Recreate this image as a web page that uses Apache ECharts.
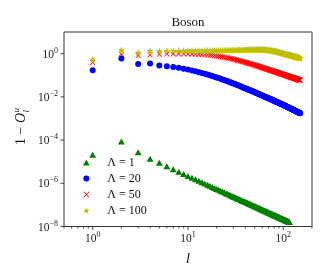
<!DOCTYPE html>
<html><head><meta charset="utf-8">
<script src="https://cdn.jsdelivr.net/npm/echarts@6/dist/echarts.min.js"></script>
<style>html,body{margin:0;padding:0;background:#fff}#c{width:332px;height:277px}</style>
</head><body><div id="c"></div>
<script>
// l values (angular momentum index)
const lValues = [1,2,3,4,5,6,7,8,9,10,11,12,13,14,15,16,17,18,19,20,21,22,23,24,25,26,27,28,29,30,
31,32,33,34,35,36,37,38,39,40,41,42,43,44,45,46,47,48,49,50,51,52,53,54,55,56,57,58,59,60,
61,62,63,64,65,66,67,68,69,70,71,72,73,74,75,76,77,78,79,80,81,82,83,84,85,86,87,88,89,90,
91,92,93,94,95,96,97,98,99,100,101,102,103,104,105,106,107,108,109,110,111,112,113,114,115,116,117,118,119,120,
121,122,123,124,125,126,127,128,129,130,131,132,133,134,135,136,137,138,139,140,141,142,143,144,145,146,147,148,149,150];

// Lambda = 1 (l = 1..116)
const lambda1 = [2.1e-5,8.5e-5,2.75e-5,1.38e-5,8.8e-6,6.1e-6,4.5e-6,3.4e-6,2.7e-6,2.2e-6,
1.82e-6,1.53e-6,1.30e-6,1.12e-6,9.8e-7,8.6e-7,7.6e-7,6.8e-7,6.1e-7,5.5e-7,
5.0e-7,4.5e-7,4.2e-7,3.8e-7,3.5e-7,3.3e-7,3.0e-7,2.8e-7,2.6e-7,2.4e-7,
2.3e-7,2.15e-7,2.0e-7,1.9e-7,1.8e-7,1.7e-7,1.6e-7,1.52e-7,1.45e-7,1.38e-7,
1.31e-7,1.25e-7,1.19e-7,1.14e-7,1.09e-7,1.04e-7,1.0e-7,9.5e-8,9.2e-8,8.8e-8,
8.5e-8,8.1e-8,7.8e-8,7.5e-8,7.3e-8,7.0e-8,6.8e-8,6.5e-8,6.3e-8,6.1e-8,
5.9e-8,5.7e-8,5.5e-8,5.4e-8,5.2e-8,5.1e-8,4.9e-8,4.8e-8,4.6e-8,4.5e-8,
4.4e-8,4.2e-8,4.1e-8,4.0e-8,3.9e-8,3.8e-8,3.7e-8,3.6e-8,3.5e-8,3.4e-8,
3.35e-8,3.27e-8,3.19e-8,3.12e-8,3.04e-8,2.97e-8,2.91e-8,2.84e-8,2.78e-8,2.72e-8,
2.66e-8,2.60e-8,2.54e-8,2.49e-8,2.44e-8,2.39e-8,2.34e-8,2.29e-8,2.24e-8,2.2e-8,
2.16e-8,2.11e-8,2.07e-8,2.03e-8,2.0e-8,1.96e-8,1.92e-8,1.89e-8,1.85e-8,1.82e-8,
1.79e-8,1.75e-8,1.72e-8,1.69e-8,1.66e-8,1.63e-8];

// Lambda = 20 (l = 1..150)
const lambda20 = [0.172,0.60,0.335,0.345,0.28,0.26,0.24,0.22,0.20,0.183,
0.167,0.152,0.138,0.127,0.117,0.108,0.0998,0.0923,0.0855,0.0794,
0.0738,0.0688,0.0642,0.060,0.0562,0.0527,0.0495,0.0466,0.0439,0.0414,
0.0391,0.037,0.035,0.0332,0.0316,0.030,0.0286,0.0272,0.0259,0.0248,
0.0237,0.0226,0.0217,0.0208,0.0199,0.0191,0.0184,0.0176,0.017,0.0163,
0.0157,0.0152,0.0146,0.0141,0.0136,0.0132,0.0127,0.0123,0.0119,0.0115,
0.0112,0.0108,0.0105,0.0102,0.0099,0.0096,0.0093,0.00906,0.00881,0.00856,
0.00833,0.00811,0.00789,0.00769,0.00749,0.0073,0.00711,0.00694,0.00677,0.0066,
0.00644,0.00629,0.00614,0.006,0.00586,0.00573,0.0056,0.00548,0.00536,0.00524,
0.00513,0.00502,0.00491,0.00481,0.00471,0.00462,0.00452,0.00443,0.00434,0.00426,
0.00417,0.00408,0.00399,0.00391,0.00383,0.00375,0.00367,0.0036,0.00352,0.00345,
0.00339,0.00332,0.00326,0.00319,0.00313,0.00307,0.00302,0.00296,0.00291,0.00285,
0.0028,0.00275,0.0027,0.00265,0.00261,0.00256,0.00252,0.00248,0.00243,0.00239,
0.00235,0.00231,0.00228,0.00224,0.0022,0.00217,0.00213,0.0021,0.00206,0.00203,
0.002,0.00197,0.00194,0.00191,0.00188,0.00185,0.00183,0.0018,0.00177,0.00175];

// Lambda = 50 (l = 1..150)
const lambda50 = [0.385,0.95,0.82,0.88,0.93,0.96,0.97,0.97,0.965,0.96,
0.948,0.934,0.918,0.901,0.882,0.862,0.841,0.819,0.796,0.773,
0.749,0.726,0.703,0.679,0.657,0.635,0.613,0.592,0.572,0.552,
0.534,0.515,0.498,0.481,0.465,0.45,0.435,0.421,0.408,0.395,
0.383,0.371,0.36,0.349,0.339,0.329,0.32,0.311,0.3025,0.294,
0.286,0.279,0.272,0.265,0.258,0.251,0.245,0.239,0.234,0.228,
0.223,0.218,0.213,0.208,0.203,0.199,0.195,0.191,0.187,0.183,
0.179,0.175,0.172,0.169,0.165,0.162,0.159,0.156,0.153,0.150,
0.148,0.145,0.143,0.140,0.138,0.135,0.133,0.131,0.129,0.127,
0.124,0.122,0.121,0.119,0.117,0.115,0.113,0.112,0.110,0.108,
0.107,0.105,0.104,0.102,0.101,0.0992,0.0978,0.0965,0.0952,0.0939,
0.0926,0.0914,0.0902,0.089,0.0878,0.0867,0.0856,0.0845,0.0834,0.0824,
0.0814,0.0804,0.0794,0.0784,0.0775,0.0766,0.0757,0.0748,0.0739,0.0731,
0.0722,0.0714,0.0706,0.0698,0.069,0.0683,0.0675,0.0668,0.0661,0.0654,
0.0647,0.064,0.0633,0.0627,0.062,0.0614,0.0608,0.0602,0.0595,0.0589];

// Lambda = 100 (l = 1..150)
const lambda100 = [0.55,1.48,1.12,1.33,1.30,1.35,1.37,1.38,1.39,1.40,
1.40,1.41,1.41,1.41,1.42,1.42,1.42,1.42,1.43,1.43,
1.43,1.43,1.44,1.44,1.44,1.45,1.45,1.46,1.46,1.47,
1.47,1.48,1.48,1.49,1.49,1.50,1.50,1.51,1.51,1.52,
1.52,1.53,1.53,1.54,1.54,1.55,1.55,1.55,1.56,1.56,
1.56,1.57,1.57,1.57,1.57,1.57,1.57,1.56,1.56,1.56,
1.55,1.55,1.54,1.53,1.52,1.51,1.50,1.49,1.48,1.47,
1.45,1.44,1.43,1.41,1.40,1.38,1.37,1.35,1.34,1.32,
1.31,1.29,1.28,1.26,1.25,1.23,1.22,1.20,1.19,1.17,
1.16,1.14,1.13,1.11,1.10,1.08,1.07,1.05,1.04,1.02,
1.01,1.00,0.99,0.98,0.97,0.96,0.95,0.94,0.93,0.92,
0.91,0.90,0.89,0.88,0.875,0.865,0.857,0.848,0.84,0.832,
0.824,0.816,0.808,0.80,0.792,0.785,0.777,0.77,0.763,0.756,
0.749,0.742,0.735,0.728,0.722,0.715,0.709,0.703,0.697,0.691,
0.685,0.679,0.673,0.668,0.662,0.657,0.651,0.646,0.641,0.636];

const seriesNames = ['Λ = 1','Λ = 20','Λ = 50','Λ = 100'];
const xMajorTicks = [1,10,100];
const xMinorTicks = [0.5,0.6,0.7,0.8,0.9,2,3,4,5,6,7,8,9,20,30,40,50,60,70,80,90,200];
const yMajorTicks = [1e-8,1e-6,1e-4,1e-2,1];

const FONT = '"Liberation Serif","DejaVu Serif",serif';
const G = {left:64, top:32, right:312, bottom:226.5};

const TRI = 'path://M5,0L10,9L0,9Z';
const XMARK = 'path://M0,1L1,0L5,4L9,0L10,1L6,5L10,9L9,10L5,6L1,10L0,9L4,5Z';
const STAR = 'path://M5,0L6.2,3.5L9.8,3.5L6.9,5.7L8,9.2L5,7.1L2,9.2L3.1,5.7L0.2,3.5L3.8,3.5Z';

function pairs(vals){ return vals.map((v,i)=>[lValues[i], v]); }

function expLabel(v, allowed){
  const lg = Math.log10(v);
  const e = Math.round(lg);
  if (Math.abs(lg - e) > 1e-6 || allowed.indexOf(e) < 0) return '';
  return '{b|10}{s|' + (e < 0 ? '\u2212' + (-e) : e) + '}';
}
const richTick = {
  b:{fontFamily:FONT, fontSize:11.5, color:'#222', lineHeight:14, verticalAlign:'bottom'},
  s:{fontFamily:FONT, fontSize:8, color:'#222', lineHeight:8, verticalAlign:'top'}
};

const chart = echarts.init(document.getElementById('c'));
const option = {
  animation:false,
  backgroundColor:'#fff',
  title:{text:'Boson', left:188, top:16, textAlign:'center', padding:0,
    textStyle:{fontFamily:FONT, fontSize:13, fontWeight:'normal', color:'#111'}},
  grid:{left:G.left, top:G.top, width:G.right-G.left, height:G.bottom-G.top, show:true,
    borderColor:'#333', borderWidth:1, backgroundColor:'transparent'},
  legend:{orient:'vertical', left:83, top:156.5, padding:0, itemWidth:32, itemHeight:6, itemGap:4,
    textStyle:{fontFamily:FONT, fontSize:12, color:'#111', lineHeight:12},
    data:[{name:seriesNames[0], icon:TRI},{name:seriesNames[1], icon:'circle'},
          {name:seriesNames[2], icon:XMARK},{name:seriesNames[3], icon:STAR}]},
  xAxis:{type:'log', logBase:10, min:0.5, max:200,
    name:'l', nameLocation:'middle', nameGap:26,
    nameTextStyle:{fontFamily:FONT, fontStyle:'italic', fontSize:14, color:'#111'},
    axisLine:{show:false}, axisTick:{show:false}, splitLine:{show:false},
    axisLabel:{margin:4, formatter:v=>expLabel(v,[0,1,2]), rich:richTick, showMinLabel:false, showMaxLabel:false}},
  yAxis:{type:'log', logBase:10, min:1e-8, max:10,
    axisLine:{show:false}, axisTick:{show:false}, splitLine:{show:false},
    axisLabel:{margin:6, formatter:v=>expLabel(v,[-8,-6,-4,-2,0]), rich:richTick}},
  series:[
    {name:seriesNames[0], type:'scatter', data:pairs(lambda1), symbol:TRI, symbolSize:[7,6],
      itemStyle:{color:'#008000', opacity:1}},
    {name:seriesNames[1], type:'scatter', data:pairs(lambda20), symbol:'circle', symbolSize:6,
      itemStyle:{color:'#0000ff', opacity:1}},
    {name:seriesNames[2], type:'scatter', data:pairs(lambda50), symbol:XMARK, symbolSize:5.5,
      itemStyle:{color:'#ff0000', opacity:1}},
    {name:seriesNames[3], type:'scatter', data:pairs(lambda100), symbol:STAR, symbolSize:7,
      itemStyle:{color:'#bfbf00', opacity:1}}
  ]
};
chart.setOption(option);

const els = [];
function tickLine(x1,y1,x2,y2){
  els.push({type:'line', silent:true, shape:{x1:x1,y1:y1,x2:x2,y2:y2}, style:{stroke:'#333', lineWidth:0.9}});
}
xMajorTicks.forEach(v=>{ const x = chart.convertToPixel({xAxisIndex:0}, v); tickLine(x,G.bottom,x,G.bottom+3.5); });
xMinorTicks.forEach(v=>{ const x = chart.convertToPixel({xAxisIndex:0}, v); tickLine(x,G.bottom,x,G.bottom+2); });
yMajorTicks.forEach(v=>{ const y = chart.convertToPixel({yAxisIndex:0}, v); tickLine(G.left-3.5,y,G.left,y); });
// right spine (rendered lighter in the reference)
els.push({type:'line', silent:true, shape:{x1:G.right,y1:G.top,x2:G.right,y2:G.bottom}, style:{stroke:'#999', lineWidth:1.6}});
// y-axis label: 1 − O_l^u
els.push({type:'group', x:21.5, y:127, rotation:Math.PI/2, silent:true, children:[
  {type:'text', x:-18, y:0, style:{text:'1 \u2212 ', font:'14px '+FONT, fill:'#111', align:'left', verticalAlign:'middle', textAlign:'left', textVerticalAlign:'middle'}},
  {type:'text', x:4, y:0, style:{text:'O', font:'italic 14px '+FONT, fill:'#111', align:'left', verticalAlign:'middle', textAlign:'left', textVerticalAlign:'middle'}},
  {type:'text', x:14.5, y:-5, style:{text:'u', font:'italic 9px '+FONT, fill:'#111', align:'left', verticalAlign:'middle', textAlign:'left', textVerticalAlign:'middle'}},
  {type:'text', x:14.5, y:5, style:{text:'l', font:'italic 9px '+FONT, fill:'#111', align:'left', verticalAlign:'middle', textAlign:'left', textVerticalAlign:'middle'}}
]});
chart.setOption({graphic:{elements:els}});
</script>
</body></html>
